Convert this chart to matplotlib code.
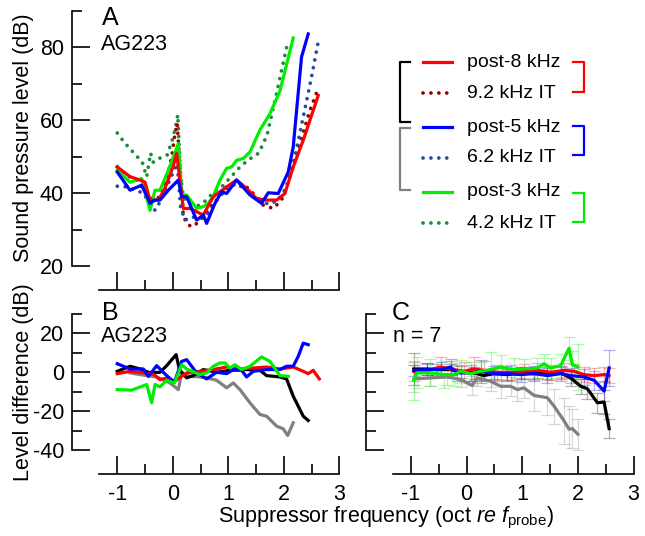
import matplotlib
matplotlib.use("Agg")
import matplotlib.pyplot as plt
from matplotlib.lines import Line2D
import numpy as np

plt.rcParams['font.family'] = ['Liberation Sans', 'DejaVu Sans']
plt.rcParams['mathtext.fontset'] = 'custom'
plt.rcParams['mathtext.rm'] = 'Liberation Sans'
plt.rcParams['mathtext.it'] = 'Liberation Sans:italic'
plt.rcParams['axes.unicode_minus'] = False

# ---- panel A: suppression tuning curves (dB SPL)
octA_red = [-1, -0.77, -0.59, -0.5, -0.41, -0.26, -0.15, 0.0, 0.07, 0.19, 0.31, 0.43, 0.55, 0.73, 0.95, 1.15, 1.33, 1.51, 1.69, 1.87, 2.02, 2.17, 2.35, 2.62]
splA_red = [47.2, 44.5, 43.6, 43, 38.1, 38.1, 41, 47, 50.9, 35.8, 35.8, 34.9, 34, 39, 41.5, 43.6, 41.3, 38.5, 38.1, 38.1, 39.9, 47.2, 54.5, 66.8]

octA_red_it = [-1, -0.83, -0.65, -0.47, -0.35, -0.23, -0.11, -0.02, 0.04, 0.08, 0.13, 0.19, 0.28, 0.37, 0.49, 0.61, 0.73, 0.85, 0.97, 1.15, 1.33, 1.51, 1.63, 1.81, 1.96, 2.11, 2.29, 2.47, 2.62]
splA_red_it = [47.2, 44.9, 43.6, 39.9, 38.1, 39, 43.6, 50, 56.3, 59.1, 47.2, 33.5, 31.2, 30.8, 32.6, 34.4, 37.2, 39, 41.7, 43.1, 41.7, 39, 36.7, 35.8, 38.1, 44.5, 53.6, 62.7, 68.7]

octA_blue = [-1, -0.77, -0.56, -0.41, -0.32, -0.23, -0.08, 0.1, 0.16, 0.25, 0.43, 0.55, 0.61, 0.76, 0.88, 0.97, 1.15, 1.39, 1.6, 1.72, 1.9, 2.08, 2.17, 2.32, 2.44]
splA_blue = [45.8, 40.8, 42.2, 37.2, 38.1, 38.1, 40.8, 43.6, 39, 39, 32.6, 34, 31.7, 37.2, 40.4, 39.9, 43.6, 39.5, 37.2, 40.1, 39.9, 45.8, 52.7, 77.4, 83.7]

octA_blue_it = [-1, -0.83, -0.65, -0.53, -0.41, -0.32, -0.23, -0.11, 0.01, 0.08, 0.14, 0.22, 0.34, 0.49, 0.64, 0.79, 0.97, 1.15, 1.33, 1.57, 1.75, 1.9, 2.05, 2.2, 2.35, 2.5, 2.62]
splA_blue_it = [41.9, 41.7, 40.8, 39.9, 37.2, 35.3, 37.6, 41.7, 45.8, 48.1, 36.3, 32.6, 33.5, 33.1, 34.4, 38.1, 41.3, 42.6, 40.8, 37.6, 37, 38.1, 41.7, 50, 60.9, 71.9, 81.5]

octA_green = [-1, -0.77, -0.56, -0.41, -0.32, -0.23, -0.08, 0.1, 0.16, 0.25, 0.43, 0.55, 0.64, 0.73, 0.85, 0.97, 1.06, 1.15, 1.27, 1.39, 1.57, 1.75, 1.93, 2.17]
splA_green = [46.3, 43, 44, 35.3, 40.8, 40.8, 46.3, 53.6, 39.5, 39.5, 35.8, 36.3, 37.2, 39.2, 43.6, 46.8, 47.2, 49, 49.5, 51.3, 57.3, 61.8, 68, 82.6]

octA_green_it = [-1, -0.85, -0.7, -0.55, -0.47, -0.4, -0.35, -0.25, -0.1, 0.0, 0.06, 0.09, 0.14, 0.19, 0.3, 0.45, 0.6, 0.75, 0.9, 1.05, 1.2, 1.35, 1.55, 1.7, 1.85, 1.95, 2.05]
splA_green_it = [56.5, 53.5, 51, 48.5, 44.5, 51, 48.5, 49.5, 50.5, 55, 59, 61.5, 45, 39, 37, 36.5, 38, 40.5, 42, 44.5, 47, 49, 51, 56, 66, 73, 80]

# ---- panel B: level differences, AG223
octB_red = [-1, -0.77, -0.53, -0.35, -0.23, -0.11, 0.03, 0.25, 0.49, 0.73, 0.97, 1.21, 1.45, 1.69, 1.93, 2.17, 2.35, 2.44, 2.53, 2.64]
diffB_red = [-0.7, 0.5, -0.3, -1, -3.8, -3, -4.6, -0.3, 0.5, 1.4, 2.7, 1.7, 2.2, 2.7, 1.7, 2.7, 0.5, -0.7, 1, -3.4]

octB_black = [-1, -0.77, -0.59, -0.41, -0.23, -0.11, 0.06, 0.12, 0.25, 0.37, 0.55, 0.79, 1.03, 1.33, 1.57, 1.69, 1.93, 2.05, 2.17, 2.35, 2.44]
diffB_black = [0.5, 3.1, 1.7, -0.3, 0, 3.4, 9.1, 1.4, -2.9, -1.7, 1.4, 0, 1, 1.4, 1, -1.7, -2.4, -3.4, -12.3, -22.6, -24.8]

octB_gray = [-0.77, -0.59, -0.29, -0.05, 0.1, 0.16, 0.31, 0.49, 0.61, 0.79, 0.97, 1.09, 1.21, 1.39, 1.57, 1.69, 1.87, 1.99, 2.07, 2.17]
diffB_gray = [-0.3, -1.2, -2.4, -5.5, -8.9, -0.3, -2.1, -2.4, -2.9, -4.1, -8, -5.5, -8.9, -15.7, -21.7, -22.6, -27.7, -29.1, -32.5, -26]

octB_blue = [-1, -0.77, -0.53, -0.44, -0.29, -0.11, 0.03, 0.16, 0.25, 0.43, 0.61, 0.79, 0.97, 1.09, 1.24, 1.33, 1.45, 1.69, 1.93, 2.05, 2.17, 2.26, 2.35, 2.44]
diffB_blue = [4.4, 1.7, 1.7, -2.1, 3.4, -1.7, -5.1, 5.6, 6.5, -0.3, -3.4, 0, -0.7, 1.4, 1, -2.4, 0.5, 1.4, 1.4, 3.1, 3.1, 8.2, 15, 14.2]

octB_green = [-1, -0.74, -0.47, -0.38, -0.32, -0.23, -0.11, 0.03, 0.16, 0.25, 0.49, 0.61, 0.73, 0.85, 0.94, 1.03, 1.12, 1.24, 1.39, 1.6, 1.75, 1.93, 2.08]
diffB_green = [-8.9, -9.2, -6.3, -15.7, -6.3, -7.5, -4.1, -5.5, 3.9, 1.7, -1.2, -0.3, 3.1, 4.8, 4.8, 2.2, 3.9, 1.4, 3.1, 7.9, 5.6, -1.7, -2.1]

# ---- panel C: group means, n = 7
octC_black = [-0.95, -0.71, -0.53, -0.29, -0.11, 0.13, 0.31, 0.49, 0.73, 0.97, 1.21, 1.45, 1.69, 1.87, 2.05, 2.17, 2.35, 2.47, 2.56]
diffC_black = [1.7, 1.7, 1.4, 1.4, 0, -0.3, -1.7, -0.7, -1.2, -0.3, -0.7, -0.3, -0.3, -2.9, -7.2, -8.5, -15.7, -15.3, -29]
errC_black = [8, 3, 3, 3, 3, 3, 3, 3, 3, 3, 3, 3, 3, 4, 4, 5, 5, 6, 5]

octC_gray = [-0.95, -0.65, -0.35, -0.11, 0.1, 0.19, 0.43, 0.61, 0.79, 0.91, 1.03, 1.21, 1.45, 1.57, 1.75, 1.84, 1.9, 2.0]
diffC_gray = [-3.4, -2.9, -2.4, -3.7, -6.8, -2.9, -4.6, -7.2, -7.2, -8.9, -8, -11.9, -13.1, -17.4, -25, -29.3, -29, -31.9]
errC_gray = [7, 4, 4, 4, 5, 4, 5, 6, 5, 6, 5, 8, 9, 9, 12, 12, 10, 8]

octC_red = [-0.95, -0.71, -0.47, -0.29, -0.05, 0.13, 0.31, 0.55, 0.79, 1.03, 1.27, 1.51, 1.75, 1.93, 2.11, 2.29, 2.47, 2.56]
diffC_red = [0.5, 1, 2.7, 1.7, 0.5, 1.7, 1, 0, 0, 0.5, 1, 0, 1, 0.5, -1.2, -1.7, -1.2, -1.7]
errC_red = [5, 4, 5, 4, 5, 6, 5, 4, 4, 4, 4, 4, 4, 4, 4, 4, 4, 4]

octC_blue = [-0.95, -0.71, -0.47, -0.29, -0.17, 0.07, 0.25, 0.49, 0.73, 0.97, 1.21, 1.45, 1.69, 1.87, 2.11, 2.29, 2.47, 2.56]
diffC_blue = [1, 1.4, 1.4, 2.7, -0.3, -0.3, 0.5, -0.7, -0.7, -1.2, -0.7, -1.7, -0.7, -1.7, -2.4, -4.1, -9.7, 2.2]
errC_blue = [3, 3, 4, 4, 4, 4, 6, 4, 4, 4, 4, 4, 4, 4, 4, 5, 5, 9.5]

octC_green = [-0.95, -0.89, -0.65, -0.41, -0.23, -0.11, 0.07, 0.25, 0.43, 0.61, 0.85, 1.03, 1.27, 1.39, 1.51, 1.69, 1.84, 1.9, 2.0]
diffC_green = [-4.1, -0.3, -0.3, -1.2, -1.2, 0.5, -0.7, 0.5, 1.4, 2.7, 1.4, 1.7, 2.2, 4.4, 2.2, 3.4, 12.4, 3.9, 2.7]
errC_green = [10, 8, 7, 7, 6, 6, 6, 5, 9, 6, 6, 5, 5, 5, 5, 6, 6, 7, 12]

legend_labels = ['post-8 kHz', '9.2 kHz IT', 'post-5 kHz', '6.2 kHz IT', 'post-3 kHz', '4.2 kHz IT']

RED, BLUE, GREEN = '#ff0000', '#0000ff', '#00ee00'
DRED, DBLUE, DGREEN = '#990000', '#1f4ea8', '#1a8c3a'
GRAY = '#808080'
DOT = (0, (0.01, 2.1))
LW = 2.3

W, H = 645, 536
fig = plt.figure(figsize=(W / 100, H / 100), dpi=100)

def fx(px):
    return px / W

def fy(py):
    return 1 - py / H

def make_ax(left, right, top, bottom):
    return fig.add_axes([fx(left), fy(bottom), fx(right) - fx(left), fy(top) - fy(bottom)])

def dotted(ax, x, y, c):
    ax.plot(x, y, color=c, lw=LW + 0.4, ls=DOT, dash_capstyle='round')

def style(ax, ylim, yticks, ymin, labels_x, labels_y):
    ax.set_xlim(-1.32, 3.0)
    ax.set_ylim(*ylim)
    for s in ['top', 'right']:
        ax.spines[s].set_visible(False)
    ax.spines['left'].set_position(('outward', 19.5))
    ax.spines['bottom'].set_position(('outward', 17.3))
    for s in ['left', 'bottom']:
        ax.spines[s].set_linewidth(1.2)
    ax.set_xticks([-1, 0, 1, 2, 3])
    ax.set_xticks([-0.5, 0.5, 1.5, 2.5], minor=True)
    ax.set_yticks(yticks)
    ax.set_yticks(ymin, minor=True)
    ax.tick_params(which='both', direction='in', width=1.2, labelsize=15.5)
    ax.tick_params(which='major', length=13)
    ax.tick_params(which='minor', length=7)
    ax.tick_params(axis='y', pad=6)
    ax.tick_params(axis='x', pad=7)
    if not labels_x:
        ax.set_xticklabels([])
    if not labels_y:
        ax.set_yticklabels([])

# ---- A
axA = make_ax(99.5, 339.3, 11, 266)
dotted(axA, octA_green_it, splA_green_it, DGREEN)
dotted(axA, octA_red_it, splA_red_it, DRED)
dotted(axA, octA_blue_it, splA_blue_it, DBLUE)
axA.plot(octA_green, splA_green, color=GREEN, lw=LW)
axA.plot(octA_red, splA_red, color=RED, lw=LW)
axA.plot(octA_blue, splA_blue, color=BLUE, lw=LW)
style(axA, (20, 90), [20, 40, 60, 80], [30, 50, 70, 90], False, True)

# ---- B
axB = make_ax(99.5, 339.3, 314, 450)
axB.plot(octB_gray, diffB_gray, color=GRAY, lw=LW)
axB.plot(octB_black, diffB_black, color='black', lw=LW)
axB.plot(octB_red, diffB_red, color=RED, lw=LW)
axB.plot(octB_blue, diffB_blue, color=BLUE, lw=LW)
axB.plot(octB_green, diffB_green, color=GREEN, lw=LW)
style(axB, (-40, 30), [-40, -20, 0, 20], [-30, -10, 10, 30], True, True)

# ---- C
axC = make_ax(393.2, 633.6, 314, 450)
series_c = [
    (octC_gray, diffC_gray, errC_gray, GRAY),
    (octC_black, diffC_black, errC_black, 'black'),
    (octC_red, diffC_red, errC_red, RED),
    (octC_blue, diffC_blue, errC_blue, BLUE),
    (octC_green, diffC_green, errC_green, GREEN),
]
for o, d, e, c in series_c:
    axC.errorbar(o, d, yerr=e, fmt='none', ecolor=c, alpha=0.3, elinewidth=0.9, capsize=4, capthick=0.9)
for o, d, e, c in series_c:
    axC.plot(o, d, color=c, lw=LW)
style(axC, (-40, 30), [-40, -20, 0, 20], [-30, -10, 10, 30], True, False)

# ---- panel text
fig.text(fx(102), fy(18), 'A', fontsize=18, va='center')
fig.text(fx(101), fy(45), 'AG223', fontsize=15.5, va='center')
fig.text(fx(102), fy(313), 'B', fontsize=18, va='center')
fig.text(fx(101), fy(337), 'AG223', fontsize=15.5, va='center')
fig.text(fx(392), fy(313), 'C', fontsize=18, va='center')
fig.text(fx(393), fy(337), 'n = 7', fontsize=15.5, va='center')

fig.text(fx(24), fy(138), 'Sound pressure level (dB)', fontsize=15.5, rotation=90, ha='center', va='center')
fig.text(fx(24), fy(382), 'Level difference (dB)', fontsize=15.5, rotation=90, ha='center', va='center')
fig.text(fx(386), fy(518), r'Suppressor frequency (oct $\it{re}$ $\it{f}_{\rm probe}$)', fontsize=15.5, ha='center', va='center')

# ---- legend with brackets
leg_styles = [(RED, '-'), (DRED, DOT), (BLUE, '-'), (DBLUE, DOT), (GREEN, '-'), (DGREEN, DOT)]
leg_y = [62, 93, 127, 158, 192, 223]
for (c, ls), lab, y in zip(leg_styles, legend_labels, leg_y):
    fig.add_artist(Line2D([fx(423), fx(452)], [fy(y), fy(y)], color=c, ls=ls, lw=LW + (0.4 if ls == DOT else 0), dash_capstyle='round'))
    fig.text(fx(467), fy(y), lab, fontsize=14, va='center')

def bracket(x0, x1, ytop, ybot, c):
    fig.add_artist(Line2D([fx(x1), fx(x0), fx(x0), fx(x1)], [fy(ytop), fy(ytop), fy(ybot), fy(ybot)], color=c, lw=1.6))

bracket(400, 410, 62, 122, 'black')
bracket(400, 410, 128, 190, GRAY)
bracket(584, 573, 62, 92, RED)
bracket(584, 573, 126, 155, BLUE)
bracket(584, 573, 193, 222, GREEN)

fig.savefig('out.png', dpi=100)
